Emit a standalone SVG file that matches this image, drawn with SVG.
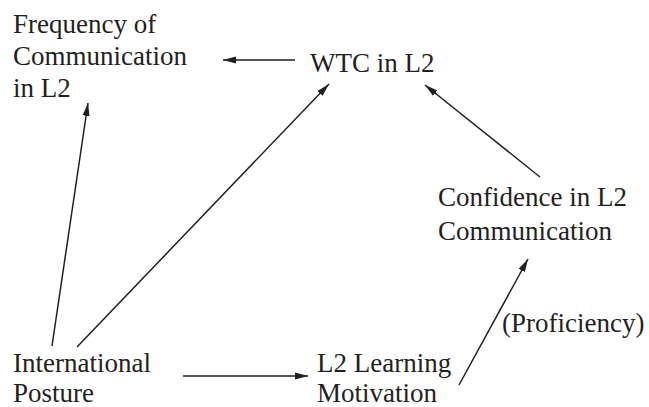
<svg xmlns="http://www.w3.org/2000/svg" width="649" height="407" viewBox="0 0 649 407">
<style>
text{font-family:'Liberation Serif','Times New Roman',Times,'DejaVu Serif',serif;font-size:27px;fill:#231f20}
.c{stroke:#231f20;stroke-width:1.5;fill:none}
</style>
<defs>
<marker id="ah" markerUnits="userSpaceOnUse" markerWidth="14" markerHeight="8" refX="13" refY="4" orient="auto" viewBox="0 0 14 8">
<path d="M0,0.5 L13,4 L0,7.5 Z" fill="#231f20"/>
</marker>
</defs>
<rect width="649" height="407" fill="#fff"/>
<g id="freq"><text x="13" y="33">Frequency of</text><text x="13" y="65">Communication</text><text x="13" y="97">in L2</text></g>
<g id="wtc"><text x="310" y="72">WTC in L2</text></g>
<g id="conf"><text x="438" y="206">Confidence in L2</text><text x="438" y="240">Communication</text></g>
<g id="intl"><text x="13" y="372">International</text><text x="13" y="402">Posture</text></g>
<g id="mot"><text x="317" y="372">L2 Learning</text><text x="317" y="402">Motivation</text></g>
<g id="connectors">
<line class="c" x1="295" y1="60" x2="223" y2="60" marker-end="url(#ah)"/>
<line class="c" x1="77" y1="347" x2="329" y2="84" marker-end="url(#ah)"/>
<line class="c" x1="540" y1="177" x2="425" y2="85" marker-end="url(#ah)"/>
<line class="c" x1="52" y1="346" x2="88" y2="103" marker-end="url(#ah)"/>
<line class="c" x1="183" y1="376" x2="308" y2="376" marker-end="url(#ah)"/>
<line class="c" x1="459" y1="385" x2="528" y2="259" marker-end="url(#ah)"/>
<text x="502" y="332">(Proficiency)</text>
</g>
</svg>
